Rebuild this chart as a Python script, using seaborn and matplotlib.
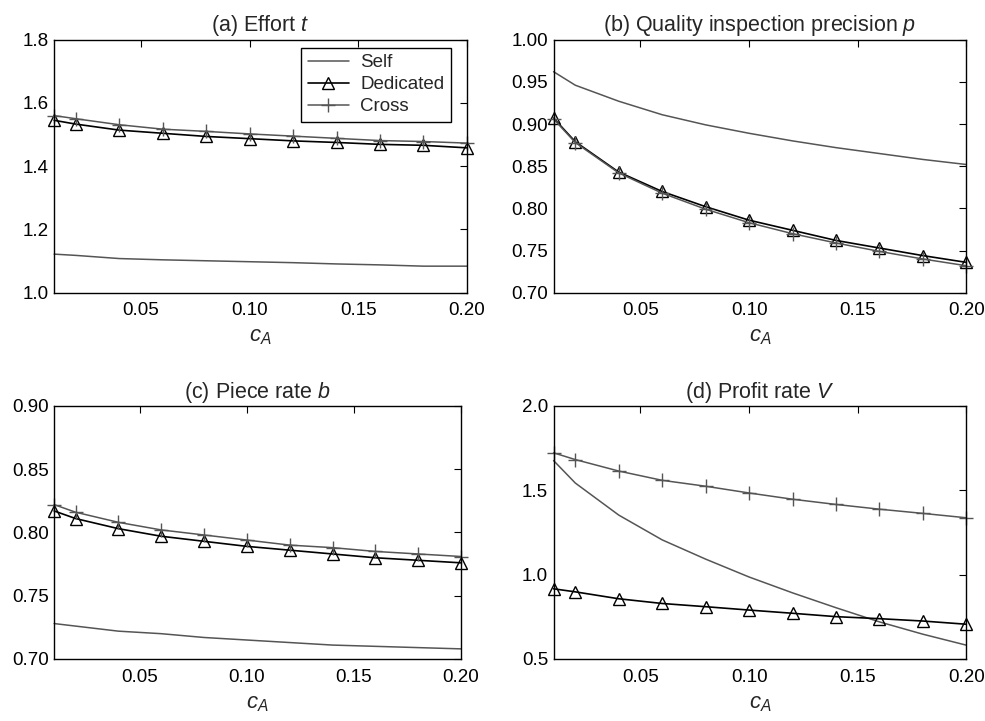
import numpy as np
import pandas as pd
import matplotlib
matplotlib.use("Agg")
import matplotlib.pyplot as plt
import seaborn as sns

# ── data ─────────────────────────────────────────────────────────────────────
c_a = [0.01, 0.02, 0.04, 0.06, 0.08, 0.10, 0.12, 0.14, 0.16, 0.18, 0.20]

effort_self = [1.122, 1.118, 1.108, 1.104, 1.101, 1.098, 1.095, 1.091, 1.088, 1.084, 1.084]
effort_dedicated = [1.545, 1.533, 1.514, 1.504, 1.494, 1.487, 1.480, 1.475, 1.469, 1.466, 1.458]
effort_cross = [1.560, 1.550, 1.531, 1.517, 1.510, 1.502, 1.495, 1.488, 1.481, 1.478, 1.473]

precision_self = [0.962, 0.946, 0.927, 0.911, 0.899, 0.889, 0.880, 0.872, 0.865, 0.858, 0.852]
precision_dedicated = [0.907, 0.879, 0.843, 0.820, 0.802, 0.786, 0.774, 0.762, 0.753, 0.744, 0.736]
precision_cross = [0.906, 0.878, 0.842, 0.818, 0.799, 0.783, 0.770, 0.759, 0.749, 0.740, 0.732]

piece_self = [0.728, 0.726, 0.722, 0.720, 0.717, 0.715, 0.713, 0.711, 0.710, 0.709, 0.708]
piece_dedicated = [0.817, 0.811, 0.803, 0.797, 0.793, 0.789, 0.786, 0.783, 0.780, 0.778, 0.776]
piece_cross = [0.822, 0.816, 0.808, 0.802, 0.798, 0.794, 0.790, 0.788, 0.785, 0.783, 0.781]

profit_self = [1.676, 1.543, 1.353, 1.206, 1.092, 0.986, 0.892, 0.804, 0.720, 0.647, 0.582]
profit_dedicated = [0.916, 0.898, 0.857, 0.829, 0.810, 0.790, 0.771, 0.751, 0.739, 0.725, 0.706]
profit_cross = [1.722, 1.682, 1.614, 1.559, 1.524, 1.484, 1.447, 1.416, 1.388, 1.363, 1.337]

titles = ["(a) Effort $t$", "(b) Quality inspection precision $p$",
          "(c) Piece rate $b$", "(d) Profit rate $V$"]
y_limits = [(1.0, 1.8), (0.70, 1.00), (0.70, 0.90), (0.5, 2.0)]
y_steps = [0.2, 0.05, 0.05, 0.5]
y_formats = ["{:.1f}", "{:.2f}", "{:.2f}", "{:.1f}"]

panels = [
    (effort_self, effort_dedicated, effort_cross),
    (precision_self, precision_dedicated, precision_cross),
    (piece_self, piece_dedicated, piece_cross),
    (profit_self, profit_dedicated, profit_cross),
]

# ── styling ──────────────────────────────────────────────────────────────────
sns.set_theme(style="white")
plt.rcParams["font.family"] = ["Liberation Sans", "DejaVu Sans"]
plt.rcParams["mathtext.fontset"] = "custom"
plt.rcParams["mathtext.it"] = "Liberation Sans:italic"
plt.rcParams["mathtext.rm"] = "Liberation Sans"

series_style = {
    "Self": dict(color="#555555", lw=1.1, marker=None),
    "Dedicated": dict(color="black", lw=1.2, marker="^"),
    "Cross": dict(color="#555555", lw=1.1, marker="+"),
}

fig = plt.figure(figsize=(9.85, 7.21), dpi=100)
positions = [
    [0.055, 0.594, 0.419, 0.351],
    [0.562, 0.594, 0.419, 0.351],
    [0.055, 0.086, 0.413, 0.351],
    [0.562, 0.086, 0.419, 0.351],
]

for i, (pos, series) in enumerate(zip(positions, panels)):
    ax = fig.add_axes(pos)
    for name, values in zip(["Self", "Dedicated", "Cross"], series):
        st = series_style[name]
        kw = {}
        if st["marker"] == "^":
            kw = dict(marker="^", markersize=9, markerfacecolor="none",
                      markeredgecolor="black", markeredgewidth=1.0)
        elif st["marker"] == "+":
            kw = dict(marker="+", markersize=10, markeredgecolor=st["color"],
                      markeredgewidth=1.0)
        sns.lineplot(x=c_a, y=values, ax=ax, color=st["color"], lw=st["lw"],
                     label=name, legend=False, clip_on=False, **kw)

    ax.set_xlim(0.01, 0.20)
    ax.set_ylim(*y_limits[i])
    ax.set_xticks([0.05, 0.10, 0.15, 0.20])
    ax.set_xticklabels([f"{v:.2f}" for v in [0.05, 0.10, 0.15, 0.20]])
    lo, hi = y_limits[i]
    yt = np.arange(lo, hi + 1e-9, y_steps[i])
    ax.set_yticks(yt)
    ax.set_yticklabels([y_formats[i].format(v) for v in yt])
    ax.tick_params(direction="in", top=True, right=True, length=5, width=0.8,
                   labelsize=13.5, colors="black")
    ax.tick_params(axis="x", pad=7)
    ax.tick_params(axis="y", pad=4)
    for sp in ax.spines.values():
        sp.set_color("black")
        sp.set_linewidth(1.0)
    ax.set_title(titles[i], fontsize=15.5, pad=6)
    ax.set_xlabel("$c_A$", fontsize=16, labelpad=5)
    ax.set_ylabel("")

    if i == 0:
        leg = ax.legend(loc="upper right", fontsize=13.5, frameon=True,
                        fancybox=False, framealpha=1, edgecolor="black",
                        borderpad=0.35, labelspacing=0.25, handlelength=2.2,
                        handletextpad=0.6, borderaxespad=0.3,
                        bbox_to_anchor=(0.975, 0.99))
        leg.get_frame().set_linewidth(1.0)

fig.savefig("out.png", dpi=100)
